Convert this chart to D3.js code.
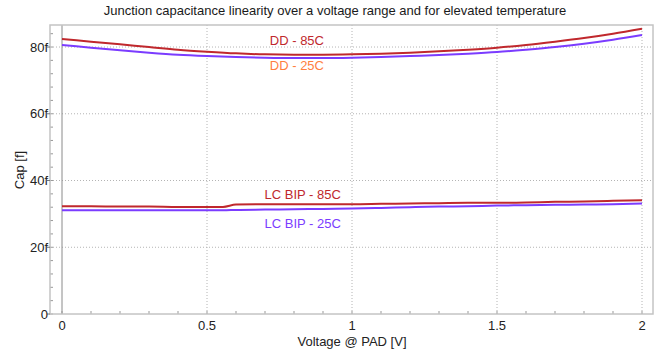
<!DOCTYPE html>
<html>
<head>
<meta charset="utf-8">
<script src="https://cdn.jsdelivr.net/npm/d3@7"></script>
<style>
  body { margin: 0; background: #fff; }
  svg { display: block; font-family: "Liberation Sans", Arial, sans-serif; }
</style>
</head>
<body>
<div id="chart"></div>
<script>
'use strict';

// voltage sweep points
const ddVolts = [0, 0.1, 0.2, 0.3, 0.4, 0.5, 0.6, 0.7, 0.8, 0.9, 1.0,
  1.1, 1.2, 1.3, 1.4, 1.5, 1.6, 1.7, 1.8, 1.9, 2.0];
const dd85 = [82.4, 81.6, 80.8, 80.0, 79.2, 78.6, 78.1, 77.8, 77.7, 77.7, 77.8,
  78.0, 78.3, 78.7, 79.2, 79.8, 80.6, 81.6, 82.7, 84.0, 85.5];
const dd25 = [80.6, 79.8, 79.0, 78.3, 77.7, 77.3, 77.0, 76.8, 76.7, 76.7, 76.8,
  77.0, 77.3, 77.6, 78.0, 78.5, 79.2, 80.0, 81.0, 82.2, 83.6];

const lcVolts = [0, 0.1, 0.2, 0.3, 0.4, 0.5, 0.555, 0.6, 0.7, 0.8, 0.9, 1.0,
  1.1, 1.2, 1.3, 1.4, 1.5, 1.6, 1.7, 1.8, 1.9, 2.0];
const lc85 = [32.3, 32.3, 32.2, 32.2, 32.1, 32.1, 32.1, 32.8, 32.9, 32.9, 32.9, 32.9,
  33.0, 33.1, 33.2, 33.3, 33.3, 33.4, 33.6, 33.7, 33.9, 34.1];
const lc25 = [31.1, 31.1, 31.1, 31.1, 31.1, 31.1, 31.1, 31.2, 31.3, 31.4, 31.5, 31.6,
  31.8, 32.0, 32.2, 32.3, 32.5, 32.6, 32.7, 32.8, 32.9, 33.1];

const xTicks = [0, 0.5, 1, 1.5, 2];
const xTickLabels = ['0', '0.5', '1', '1.5', '2'];
const yTicks = [0, 20, 40, 60, 80];
const yTickLabels = ['0', '20f', '40f', '60f', '80f'];

const width = 658, height = 351;
const frame = { left: 50, right: 653, top: 25, bottom: 314 };

const svg = d3.select('#chart').append('svg')
  .attr('width', width)
  .attr('height', height);

const x = d3.scaleLinear().domain([0, 2]).range([62, 642]);
const y = d3.scaleLinear().domain([0, 86.6]).range([frame.bottom, frame.top]);

// title
svg.append('text')
  .attr('x', 335).attr('y', 15)
  .attr('text-anchor', 'middle')
  .attr('font-size', 13)
  .attr('fill', '#1a1a1a')
  .text('Junction capacitance linearity over a voltage range and for elevated temperature');

// grid
const grid = svg.append('g');
grid.selectAll('.gx').data(xTicks.filter((d) => d > 0))
  .enter().append('line')
    .attr('x1', (d) => x(d)).attr('x2', (d) => x(d))
    .attr('y1', frame.top).attr('y2', frame.bottom)
    .attr('stroke', '#b4b4b4').attr('stroke-dasharray', '1,2');
grid.selectAll('.gy').data(yTicks.filter((d) => d > 0))
  .enter().append('line')
    .attr('x1', frame.left).attr('x2', frame.right)
    .attr('y1', (d) => y(d)).attr('y2', (d) => y(d))
    .attr('stroke', '#b4b4b4').attr('stroke-dasharray', '1,2');

// zero line
svg.append('line')
  .attr('x1', x(0)).attr('x2', x(0))
  .attr('y1', frame.top).attr('y2', frame.bottom)
  .attr('stroke', '#8a8a8a').attr('stroke-width', 1);

// minor ticks
const xMinor = d3.range(0, 2.001, 0.1);
svg.append('g').selectAll('line').data(xMinor)
  .enter().append('line')
    .attr('x1', (d) => x(d)).attr('x2', (d) => x(d))
    .attr('y1', frame.bottom).attr('y2', frame.bottom - 3)
    .attr('stroke', '#999');
const yMinor = d3.range(0, 86, 4);
svg.append('g').selectAll('line').data(yMinor)
  .enter().append('line')
    .attr('x1', frame.left).attr('x2', frame.left + 3)
    .attr('y1', (d) => y(d)).attr('y2', (d) => y(d))
    .attr('stroke', '#999');

// frame
svg.append('rect')
  .attr('x', frame.left).attr('y', frame.top)
  .attr('width', frame.right - frame.left)
  .attr('height', frame.bottom - frame.top)
  .attr('fill', 'none')
  .attr('stroke', '#c4c4c4')
  .attr('stroke-width', 1.5);

// axes labels
const yAxis = svg.append('g');
yAxis.selectAll('line').data(yTicks)
  .enter().append('line')
    .attr('x1', frame.left - 3).attr('x2', frame.left)
    .attr('y1', (d) => y(d)).attr('y2', (d) => y(d))
    .attr('stroke', '#777');
yAxis.selectAll('text').data(yTicks)
  .enter().append('text')
    .attr('x', frame.left - 2)
    .attr('y', (d) => y(d))
    .attr('dy', '0.35em')
    .attr('text-anchor', 'end')
    .attr('font-size', 13)
    .attr('fill', '#222')
    .text((d, i) => yTickLabels[i]);

svg.append('g').selectAll('text').data(xTicks)
  .enter().append('text')
    .attr('x', (d) => x(d))
    .attr('y', 330)
    .attr('text-anchor', 'middle')
    .attr('font-size', 13)
    .attr('fill', '#222')
    .text((d, i) => xTickLabels[i]);

svg.append('text')
  .attr('x', 352).attr('y', 346)
  .attr('text-anchor', 'middle')
  .attr('font-size', 13)
  .attr('fill', '#222')
  .text('Voltage @ PAD [V]');

svg.append('text')
  .attr('transform', 'translate(24,170) rotate(-90)')
  .attr('text-anchor', 'middle')
  .attr('font-size', 13)
  .attr('fill', '#222')
  .text('Cap [f]');

// curves
const series = [
  { volts: lcVolts, values: lc25, color: '#7b3cff' },
  { volts: lcVolts, values: lc85, color: '#c0282d' },
  { volts: ddVolts, values: dd25, color: '#7b3cff' },
  { volts: ddVolts, values: dd85, color: '#c0282d' }
];

const line = d3.line()
  .x((d) => x(d[0]))
  .y((d) => y(d[1]))
  .curve(d3.curveMonotoneX);

svg.append('g').selectAll('path').data(series)
  .enter().append('path')
    .attr('d', (s) => line(s.volts.map((v, i) => [v, s.values[i]])))
    .attr('fill', 'none')
    .attr('stroke', (s) => s.color)
    .attr('stroke-width', 2);

// curve labels
const labels = [
  { text: 'DD - 85C', x: 0.81, y: 82.0, color: '#c0282d' },
  { text: 'DD - 25C', x: 0.81, y: 74.5, color: '#ff7f3f' },
  { text: 'LC BIP - 85C', x: 0.83, y: 35.8, color: '#c0282d' },
  { text: 'LC BIP - 25C', x: 0.83, y: 27.2, color: '#7b3cff' }
];
svg.append('g').selectAll('text').data(labels)
  .enter().append('text')
    .attr('x', (d) => x(d.x))
    .attr('y', (d) => y(d.y))
    .attr('dy', '0.35em')
    .attr('text-anchor', 'middle')
    .attr('font-size', 13)
    .attr('fill', (d) => d.color)
    .text((d) => d.text);
</script>
</body>
</html>
